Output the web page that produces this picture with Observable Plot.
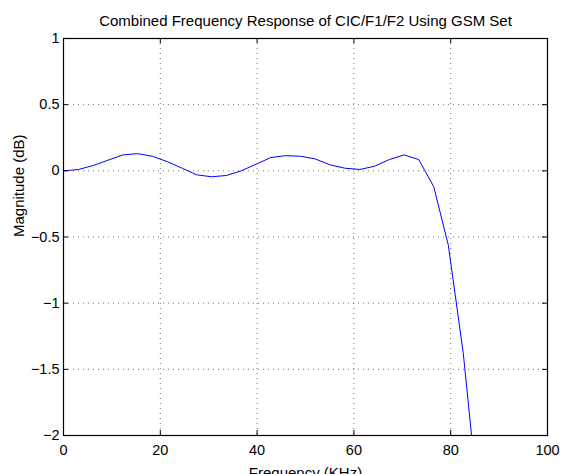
<!DOCTYPE html>
<html><head><meta charset="utf-8">
<script src="https://cdn.jsdelivr.net/npm/d3@7"></script>
<script src="https://cdn.jsdelivr.net/npm/@observablehq/plot@0.6"></script>
<style>html,body{margin:0;padding:0;background:#fff}svg{display:block}</style>
</head><body><div id="chart"></div>
<script>
const freqKHz = [0, 3.06, 6.12, 9.18, 12.24, 15.3, 18.36, 21.4, 24.5, 27.5, 30.6, 33.7, 36.7, 39.8, 42.8, 45.9, 49.0, 52.0, 55.1, 58.1, 61.2, 64.3, 67.3, 70.4, 73.4, 76.5, 79.5, 82.6, 85.7];
const magDb = [0.00, 0.01, 0.04, 0.08, 0.12, 0.13, 0.11, 0.07, 0.02, -0.03, -0.045, -0.035, 0.00, 0.05, 0.10, 0.115, 0.11, 0.09, 0.045, 0.02, 0.01, 0.035, 0.085, 0.12, 0.085, -0.12, -0.56, -1.38, -2.5];
const xTicks = [0, 20, 40, 60, 80, 100];
const yTicks = [1, 0.5, 0, -0.5, -1, -1.5, -2];
const titleText = "Combined Frequency Response of CIC/F1/F2 Using GSM Set";
const xLabel = "Frequency (KHz)";
const yLabel = "Magnitude (dB)";

const data = freqKHz.map((f, i) => ({f, m: magDb[i]}));
const W = 562, H = 474, mL = 63, mR = 15, mT = 38, mB = 39;
const pH = H - mT - mB, pW = W - mL - mR, tk = 5;
const font = "'Liberation Sans', Arial, Helvetica, sans-serif";
const fmt = d => String(d).replace("-", "\u2212");

const chart = Plot.plot({
  width: W, height: H,
  marginLeft: mL, marginRight: mR, marginTop: mT, marginBottom: mB,
  style: {fontFamily: font, fontSize: "14.5px", color: "#000", background: "#fff"},
  x: {domain: [0, 100], ticks: xTicks, tickSize: 0, tickPadding: 9, label: null, tickFormat: fmt},
  y: {domain: [-2, 1], ticks: yTicks, tickSize: 0, tickPadding: 4, label: null, tickFormat: fmt},
  marks: [
    Plot.gridX(xTicks.slice(1, -1), {stroke: "#000", strokeOpacity: 0.55, strokeDasharray: "1,4"}),
    Plot.gridY(yTicks.slice(1, -1), {stroke: "#000", strokeOpacity: 0.55, strokeDasharray: "1,4"}),
    Plot.line(data, {x: "f", y: "m", stroke: "#0000ff", strokeWidth: 1, clip: true}),
    Plot.tickX(xTicks, {x: d => d, insetTop: pH - tk, stroke: "#000"}),
    Plot.tickX(xTicks, {x: d => d, insetBottom: pH - tk, stroke: "#000"}),
    Plot.tickY(yTicks, {y: d => d, insetRight: pW - tk, stroke: "#000"}),
    Plot.tickY(yTicks, {y: d => d, insetLeft: pW - tk, stroke: "#000"}),
    Plot.frame({stroke: "#000", strokeWidth: 1.2}),
    Plot.text([titleText], {frameAnchor: "top", dy: -17, lineAnchor: "middle", fontSize: 15}),
    Plot.text([xLabel], {frameAnchor: "bottom", dy: 32, lineAnchor: "top", fontSize: 15}),
    Plot.text([yLabel], {frameAnchor: "left", dx: -44, rotate: -90, lineAnchor: "middle", fontSize: 15})
  ]
});
document.getElementById("chart").appendChild(chart);
</script>
</body></html>
